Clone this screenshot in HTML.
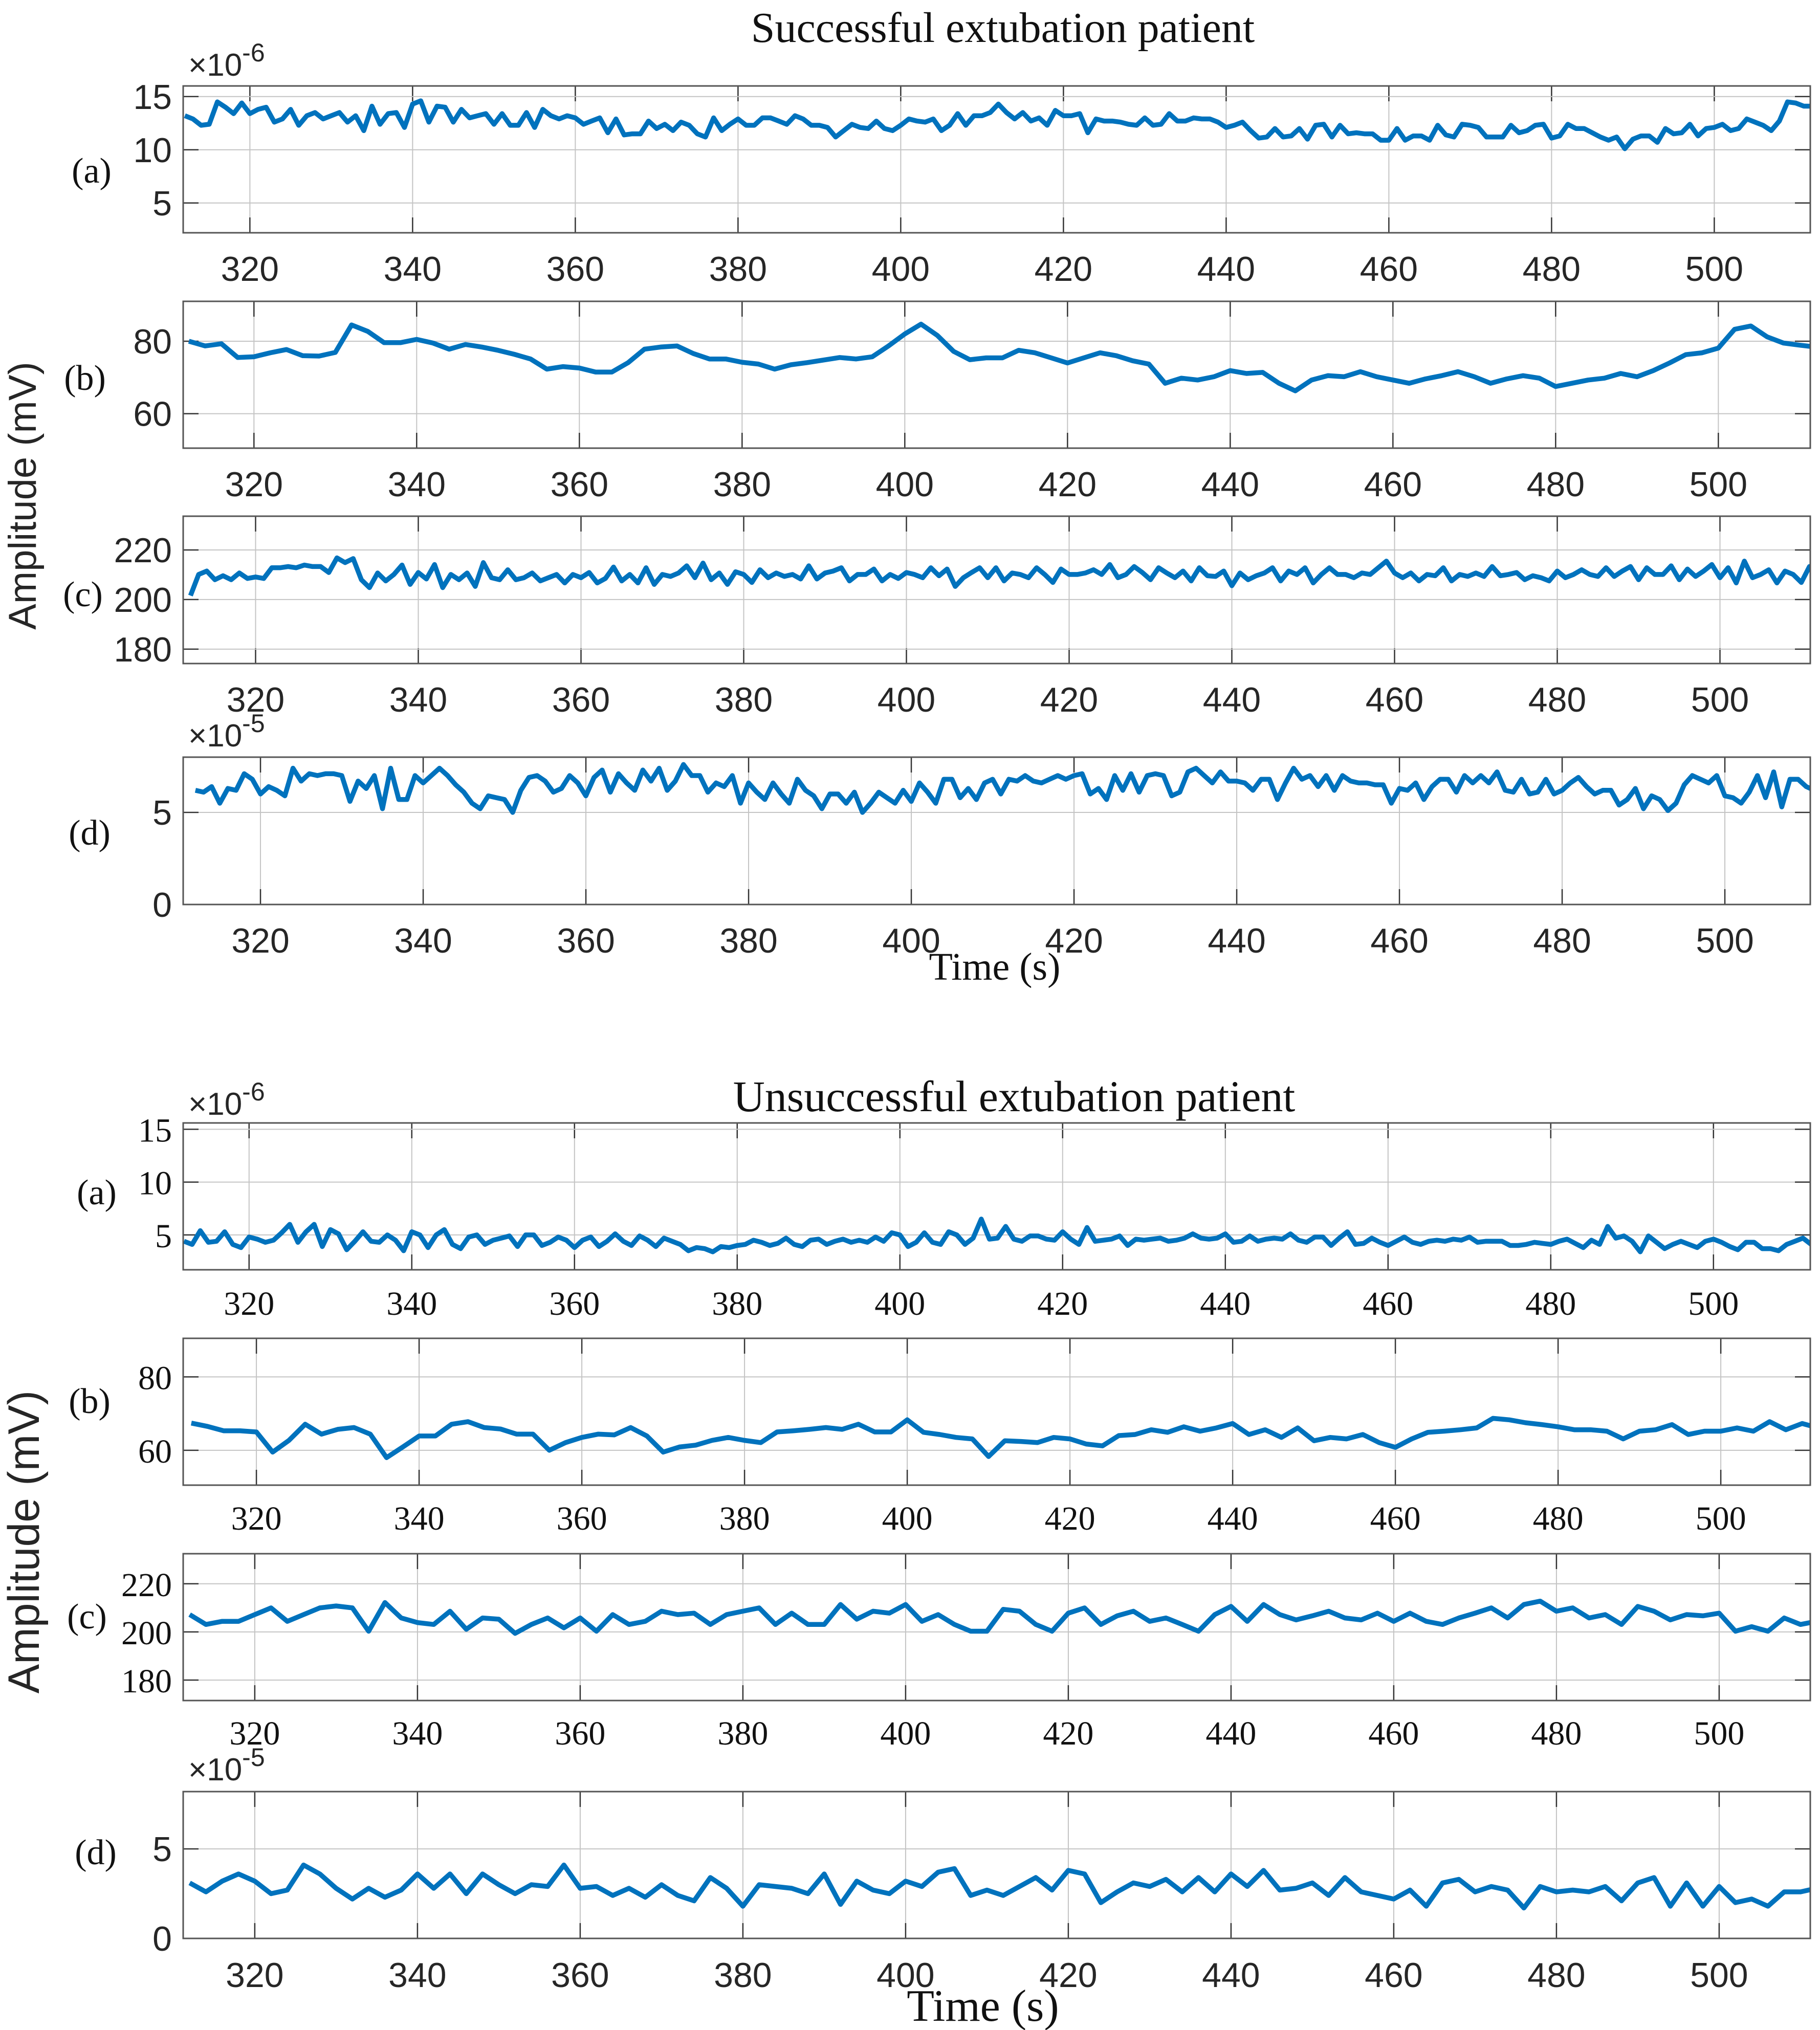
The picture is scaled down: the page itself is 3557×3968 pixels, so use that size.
<!DOCTYPE html>
<html><head><meta charset="utf-8">
<style>
html,body{margin:0;padding:0;background:#fff;}
svg{display:block;}
.sans{font-family:"Liberation Sans",sans-serif;fill:#262626;}
.serif{font-family:"Liberation Serif",serif;fill:#111;}
</style></head>
<body>
<svg id="fig" xmlns="http://www.w3.org/2000/svg" width="3557" height="3968" viewBox="0 0 3557 3968">
<rect width="3557" height="3968" fill="#fff"/>
<defs id="defs"></defs>
<text class="serif" x="1960" y="82" font-size="84" text-anchor="middle">Successful extubation patient</text>
<text class="serif" x="1982" y="2172" font-size="86" text-anchor="middle">Unsuccessful extubation patient</text>
<text class="sans" font-size="76" text-anchor="middle" transform="translate(70,969) rotate(-90)">Amplitude (mV)</text>
<text class="sans" font-size="86" text-anchor="middle" transform="translate(76,3014) rotate(-90)">Amplitude (mV)</text>
<text class="serif" x="1944" y="1915" font-size="76" text-anchor="middle">Time (s)</text>
<text class="serif" x="1921" y="3950" font-size="88" text-anchor="middle">Time (s)</text>
<g id="panels"></g>
</svg>
<script>
// Data; time spans 312..512 s
const tStart = 312, tEnd = 512;
const xTicks = [320,340,360,380,400,420,440,460,480,500];

const topA = [13.2,12.9,12.3,12.4,14.5,14.0,13.4,14.4,13.4,13.8,14.0,12.6,12.9,13.8,12.3,13.2,13.5,12.9,13.2,13.5,12.6,13.2,11.8,14.1,12.4,13.4,13.5,12.1,14.3,14.6,12.6,14.1,14.0,12.6,13.8,13.0,13.2,13.4,12.4,13.4,12.3,12.3,13.5,12.1,13.8,13.2,12.9,13.2,13.0,12.4,12.7,13.0,11.6,12.9,11.4,11.5,11.5,12.7,12.0,12.4,11.8,12.6,12.3,11.5,11.2,13.0,11.8,12.4,12.9,12.3,12.3,13.0,13.0,12.7,12.4,13.2,12.9,12.3,12.3,12.1,11.2,11.8,12.4,12.1,12.0,12.7,12.0,11.8,12.3,
12.9,12.7,12.6,12.9,11.8,12.3,13.4,12.3,13.2,13.2,13.5,14.3,13.5,12.9,13.5,12.7,13.0,12.3,13.7,13.2,13.2,13.4,11.6,12.9,12.7,12.7,12.6,12.4,12.3,13.0,12.3,12.4,13.4,12.7,12.7,13.0,12.9,12.9,12.6,12.1,12.3,12.6,11.8,11.1,11.2,12.0,11.2,11.3,12.0,11.0,12.3,12.4,11.2,12.3,11.5,11.6,11.5,11.5,10.9,10.9,12.0,10.9,11.3,11.3,10.9,12.3,11.4,11.2,12.4,12.3,12.1,11.2,11.2,11.2,12.3,11.6,11.8,12.3,12.4,11.1,11.3,12.4,12.0,12.0,11.6,11.2,10.9,11.2,10.1,11.0,11.3,11.3,10.7,12.0,11.5,11.6,12.4,11.3,12.0,12.1,12.4,11.8,12.0,12.9,12.6,12.3,11.8,12.7,14.5,14.4,14.1,14.1];

const topB = [80.0,78.7,79.3,75.5,75.7,76.8,77.7,76.0,75.9,76.9,84.5,82.7,79.6,79.6,80.5,79.5,77.8,79.1,78.4,77.5,76.4,75.1,72.3,73.0,72.6,71.5,71.5,74.1,77.8,78.4,78.7,76.6,75.1,75.1,74.2,73.7,72.3,73.5,74.1,74.8,75.5,75.1,75.7,78.7,82.0,84.7,81.6,77.2,74.9,75.4,75.4,77.5,76.8,75.4,74.0,75.4,76.8,76.0,74.6,73.7,68.4,69.8,69.3,70.2,71.9,71.1,71.4,68.4,66.3,69.3,70.5,70.2,71.6,70.2,69.3,68.4,69.6,70.5,71.6,70.2,68.4,69.6,70.5,69.8,67.5,68.4,69.3,69.8,71.1,70.2,71.9,74.0,76.3,76.8,78.1,83.3,84.2,81.2,79.5,78.9,78.4];

const topC = [201.6,210.1,211.5,208.0,209.6,208.0,210.7,208.5,209.1,208.5,212.8,212.8,213.3,212.8,213.9,213.3,213.3,210.9,216.8,214.9,216.5,208.0,204.8,210.7,207.5,210.1,213.9,206.1,210.9,208.3,214.1,204.8,210.1,208.0,210.7,205.3,214.9,208.8,208.0,212.0,208.0,208.8,210.7,207.5,208.8,210.1,206.7,210.1,208.8,210.9,206.7,208.5,213.1,207.5,210.1,206.7,212.8,206.1,210.1,209.3,210.7,213.6,208.8,214.7,208.0,210.7,206.1,211.2,210.1,206.9,212.0,208.8,210.7,209.3,210.1,208.3,213.6,208.3,210.7,211.5,212.8,207.5,210.1,210.1,212.3,207.5,210.1,208.5,210.9,
210.1,208.8,212.8,209.6,212.3,205.3,208.8,210.9,212.8,208.8,212.8,207.5,210.7,210.1,208.8,212.8,210.1,206.9,212.3,210.1,210.1,210.7,212.0,210.1,214.1,208.8,210.1,213.3,210.9,208.0,212.8,210.7,208.8,211.5,207.5,212.8,209.6,209.3,211.5,205.6,210.7,208.0,209.6,210.7,212.8,207.5,211.5,210.1,212.8,206.7,210.1,212.8,210.1,210.1,208.8,210.7,210.1,212.8,215.5,210.7,208.8,210.7,207.5,210.1,209.6,212.8,207.5,210.1,209.3,210.7,209.3,213.3,209.6,210.1,210.9,208.0,209.6,208.8,207.5,211.5,208.8,210.1,212.0,210.1,209.3,212.8,209.3,211.5,213.3,208.0,212.8,210.1,210.1,213.6,208.0,212.3,209.3,211.5,214.1,208.8,212.8,206.7,215.5,208.8,210.1,212.0,206.7,211.5,210.1,206.9,213.3,210.1];

const topD = [6.2,6.1,6.4,5.5,6.3,6.2,7.1,6.8,6.0,6.4,6.2,5.9,7.4,6.7,7.1,7.0,7.1,7.1,7.0,5.6,6.7,6.3,7.0,5.2,7.4,5.7,5.7,7.0,6.6,7.0,7.4,7.0,6.5,6.1,5.5,5.2,5.9,5.8,5.7,5.0,6.2,6.9,7.0,6.7,6.1,6.3,7.0,6.6,5.9,6.9,7.3,6.1,7.1,6.6,6.2,7.3,6.7,7.4,6.2,6.7,7.6,7.0,7.0,6.1,6.6,6.4,7.0,5.5,6.6,6.1,5.7,6.6,6.0,5.5,6.8,6.2,5.9,5.2,6.0,6.0,5.5,6.1,5.0,5.5,6.1,5.8,5.5,6.2,5.6,
6.6,6.1,5.5,6.8,6.8,5.8,6.3,5.7,6.6,6.8,6.0,6.8,6.7,7.0,6.7,6.6,6.8,7.0,6.8,7.0,7.1,6.0,6.3,5.7,7.0,6.2,7.1,6.1,7.0,7.1,7.0,5.9,6.1,7.2,7.4,7.0,6.6,7.2,6.7,6.7,6.6,6.2,6.8,6.8,5.7,6.6,7.4,6.8,7.0,6.4,7.0,6.2,7.0,6.7,6.6,6.6,6.5,6.5,5.5,6.3,6.2,6.6,5.7,6.4,6.8,6.8,6.1,7.0,6.6,7.0,6.6,7.2,6.2,6.1,6.8,6.0,6.1,6.8,6.0,6.2,6.6,6.9,6.4,6.0,6.2,6.2,5.4,5.7,6.3,5.2,5.9,5.7,5.1,5.5,6.5,7.0,6.8,6.6,7.0,5.9,5.8,5.5,6.1,7.0,5.8,7.2,5.3,6.8,6.8,6.4,6.2,6.2];

const botA = [4.4,4.1,5.4,4.3,4.4,5.3,4.1,3.8,4.8,4.6,4.3,4.5,5.2,6.0,4.3,5.3,6.0,3.9,5.5,5.1,3.6,4.4,5.3,4.4,4.3,5.0,4.5,3.5,5.3,5.0,3.8,5.0,5.5,4.1,3.7,4.8,5.0,4.1,4.5,4.7,4.9,3.9,5.0,5.0,4.0,4.3,4.8,4.5,3.8,4.5,4.8,3.9,4.4,5.1,4.4,4.0,4.9,4.5,3.9,4.7,4.4,4.1,3.5,3.8,3.7,3.4,3.9,3.8,4.0,4.1,4.5,4.3,4.0,4.2,4.7,4.1,3.9,4.5,4.6,4.1,4.4,4.6,4.3,4.5,4.3,4.8,4.4,5.2,5.0,
3.9,4.3,5.2,4.3,4.1,5.3,5.0,4.1,4.7,6.5,4.6,4.7,5.8,4.6,4.4,4.9,4.9,4.6,4.5,5.3,4.6,4.1,5.7,4.4,4.5,4.6,4.9,4.0,4.6,4.5,4.6,4.7,4.4,4.5,4.7,5.1,4.7,4.6,4.7,5.1,4.3,4.4,4.9,4.4,4.6,4.7,4.6,5.1,4.5,4.3,4.8,4.8,4.0,4.7,5.3,4.1,4.2,4.7,4.3,4.0,4.4,4.8,4.3,4.1,4.4,4.5,4.4,4.6,4.5,4.8,4.3,4.4,4.4,4.4,4.0,4.0,4.1,4.3,4.2,4.1,4.4,4.6,4.2,3.8,4.5,4.1,5.8,4.7,4.9,4.4,3.4,4.9,4.3,3.7,4.1,4.4,4.1,3.8,4.4,4.6,4.3,3.9,3.6,4.3,4.3,3.7,3.7,3.5,4.1,4.4,4.7,4.1];

const botB = [67.4,66.5,65.3,65.3,65.0,59.5,62.7,67.1,64.4,65.7,66.2,64.4,58.0,60.9,63.9,63.9,67.1,67.8,66.2,65.8,64.4,64.4,60.0,62.1,63.5,64.4,64.2,66.2,63.9,59.5,60.9,61.4,62.7,63.5,62.7,62.1,65.0,65.3,65.7,66.2,65.7,67.1,65.0,65.0,68.3,64.9,64.3,63.5,63.1,58.3,62.6,62.4,62.1,63.5,63.1,61.7,61.2,64.0,64.3,65.6,64.9,66.4,65.2,66.1,67.3,64.3,65.6,63.5,66.1,62.6,63.5,63.1,64.3,62.1,60.8,63.1,64.9,65.2,65.6,66.1,68.7,68.3,67.5,67.0,66.4,65.6,65.6,65.2,63.1,65.2,65.6,67.0,64.3,65.2,65.2,66.1,65.2,67.8,65.6,67.3,66.1];

const botC = [207.2,203.1,204.4,204.4,207.2,210.0,204.4,207.2,210.0,210.8,210.0,200.3,212.2,205.8,203.9,203.1,208.6,201.1,205.8,205.3,199.4,203.1,205.8,201.7,205.8,200.3,207.2,203.1,204.4,208.6,207.2,207.8,203.1,207.2,208.6,210.0,203.1,207.8,203.1,203.1,211.4,205.3,208.6,207.8,211.4,204.4,207.2,203.1,200.3,200.3,209.4,208.6,203.1,200.3,207.8,210.0,203.1,206.7,208.6,204.4,205.8,203.1,200.3,207.2,210.6,204.4,211.4,207.2,205.0,206.7,208.6,205.8,205.0,207.8,204.4,207.8,204.4,203.1,205.8,207.8,210.0,205.8,211.4,212.8,208.6,210.0,205.8,207.2,203.1,210.6,208.6,205.0,207.2,206.7,207.8,200.3,202.2,200.3,205.8,203.1,204.4];

const botD = [3.1,2.6,3.2,3.6,3.2,2.5,2.7,4.1,3.6,2.8,2.2,2.8,2.3,2.7,3.6,2.8,3.6,2.5,3.6,3.0,2.5,3.0,2.9,4.1,2.8,2.9,2.4,2.8,2.3,3.0,2.4,2.1,3.4,2.8,1.8,3.0,2.9,2.8,2.5,3.6,1.9,3.2,2.7,2.5,3.2,2.9,3.7,3.9,2.4,2.7,2.4,2.9,3.4,2.7,3.8,3.6,2.0,2.6,3.1,2.9,3.3,2.6,3.4,2.6,3.6,2.9,3.8,2.7,2.8,3.1,2.4,3.4,2.6,2.4,2.2,2.7,1.8,3.1,3.3,2.6,2.9,2.7,1.7,2.9,2.6,2.7,2.6,2.9,2.1,3.1,3.4,1.8,3.1,1.8,2.9,2.0,2.2,1.8,2.6,2.6,2.8];

const ticksA = [5,10,15];
const ticksB = [60,80];
const ticksC = [180,200,220];
const ticksD = [0,5];

const NS = 'http://www.w3.org/2000/svg';
const root = document.getElementById('panels');
const defs = document.getElementById('defs');
function el(tag, attrs, parent){ const e=document.createElementNS(NS,tag); for(const k in attrs) e.setAttribute(k,attrs[k]); (parent||root).appendChild(e); return e; }

const L=358, R=3538;
const panels = [
 {id:'top-a',data:topA,top:168,bot:455,xmin:311.8,ymin:2.2,ymax:16,yt:ticksA,lab:'(a)',lx:179,ly:335,xly:549,tf:'sans',exp:'-6',ey:148},
 {id:'top-b',data:topB,top:589,bot:876,xmin:311.3,ymin:50.5,ymax:91,yt:ticksB,lab:'(b)',lx:166,ly:740,xly:970,tf:'sans'},
 {id:'top-c',data:topC,top:1009,bot:1297,xmin:311.1,ymin:174.2,ymax:233.6,yt:ticksC,lab:'(c)',lx:162,ly:1163,xly:1391,tf:'sans'},
 {id:'top-d',data:topD,top:1480,bot:1768,xmin:310.5,ymin:0,ymax:8,yt:ticksD,lab:'(d)',lx:175,ly:1629,xly:1862,tf:'sans',exp:'-5',ey:1459},
 {id:'bottom-a',data:botA,top:2195,bot:2482,xmin:311.9,ymin:1.7,ymax:15.6,yt:ticksA,lab:'(a)',lx:189,ly:2332,xly:2570,tf:'serif',exp:'-6',ey:2179},
 {id:'bottom-b',data:botB,top:2616,bot:2903,xmin:311,ymin:50.5,ymax:90.5,yt:ticksB,lab:'(b)',lx:175,ly:2740,xly:2990,tf:'serif'},
 {id:'bottom-c',data:botC,top:3037,bot:3324,xmin:311.2,ymin:171.5,ymax:232.5,yt:ticksC,lab:'(c)',lx:170,ly:3161,xly:3410,tf:'serif'},
 {id:'bottom-d',data:botD,top:3502,bot:3789,xmin:311.2,ymin:0,ymax:8.2,yt:ticksD,lab:'(d)',lx:187,ly:3622,xly:3884,tf:'sans',exp:'-5',ey:3480}
];

panels.forEach(p=>{
  const g = el('g',{});
  
  
  const xmax = p.xmin + (R-L)/15.9;
  const sx = t => L + (t-p.xmin)/(xmax-p.xmin)*(R-L);
  const sy = v => p.bot - (v-p.ymin)/(p.ymax-p.ymin)*(p.bot-p.top);
  const cp = el('clipPath',{id:'clip-'+p.id},defs);
  el('rect',{x:L,y:p.top,width:R-L,height:p.bot-p.top},cp);
  xTicks.forEach(t=>{
    const x=sx(t);
    const gl=el('line',{x1:x,x2:x,y1:p.top,y2:p.bot,stroke:'#c4c4c4','stroke-width':2},g);
    
    
    el('line',{x1:x,x2:x,y1:p.bot,y2:p.bot-30,stroke:'#333','stroke-width':2.5},g);
    el('line',{x1:x,x2:x,y1:p.top,y2:p.top+30,stroke:'#333','stroke-width':2.5},g);
    const tx=el('text',{x:x,y:p.xly,'font-size':p.tf==='sans'?68:66,'text-anchor':'middle',class:p.tf},g);
    tx.textContent=t;
    
    
  });
  p.yt.forEach(v=>{
    const y=sy(v);
    const gl=el('line',{x1:L,x2:R,y1:y,y2:y,stroke:'#c4c4c4','stroke-width':2},g);
    
    
    el('line',{x1:L,x2:L+30,y1:y,y2:y,stroke:'#333','stroke-width':2.5},g);
    el('line',{x1:R,x2:R-30,y1:y,y2:y,stroke:'#333','stroke-width':2.5},g);
    const tx=el('text',{x:336,y:y+24,'font-size':p.tf==='sans'?68:66,'text-anchor':'end',class:p.tf},g);
    tx.textContent=v;
    
    
  });
  const n=p.data.length, step=(tEnd-tStart)/(n-1);
  const pts=p.data.map((v,i)=>sx(tStart+i*step).toFixed(1)+','+sy(v).toFixed(1)).join(' ');
  const ln=el('polyline',{points:pts,fill:'none',stroke:'#0072BD','stroke-width':9.5,'stroke-linejoin':'round','clip-path':'url(#clip-'+p.id+')'},g);
  
  
  const bx=el('rect',{x:L,y:p.top,width:R-L,height:p.bot-p.top,fill:'none',stroke:'#555','stroke-width':3},g);
  
  
  const lb=el('text',{x:p.lx,y:p.ly+22,'font-size':70,'text-anchor':'middle',class:'serif'},g);
  lb.textContent=p.lab;
  
  
  if(p.exp){
    const ex=el('text',{x:368,y:p.ey,'font-size':62,class:'sans'},g);
    ex.textContent='\u00d710';
    
    
    const sp=el('tspan',{dy:-28,'font-size':50},ex);
    sp.textContent=p.exp;
  }
});
</script>
</body></html>
